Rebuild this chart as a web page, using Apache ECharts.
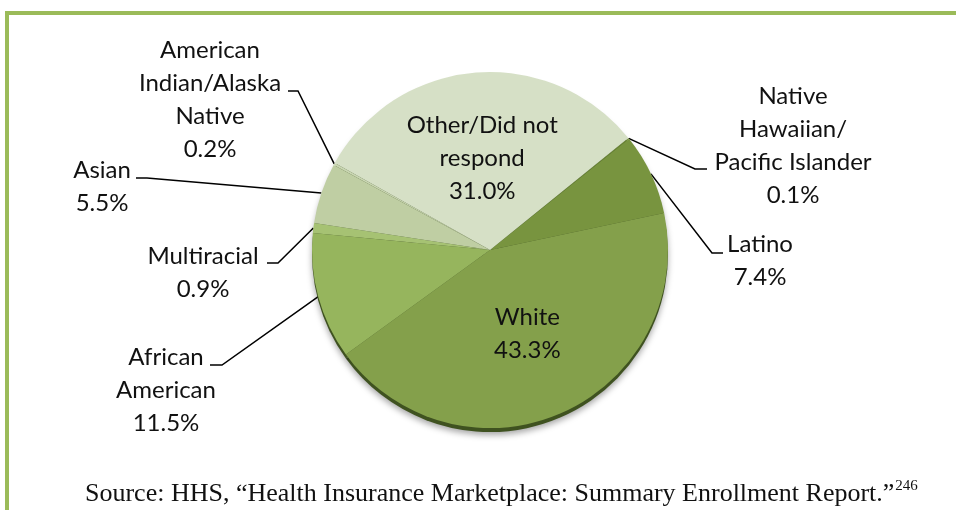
<!DOCTYPE html>
<html>
<head>
<meta charset="utf-8">
<title>Enrollment by race/ethnicity</title>
<script src="https://cdn.jsdelivr.net/npm/echarts@6/dist/echarts.min.js"></script>
<style>
	html,body{margin:0;padding:0;background:#fff;}
	#main{width:956px;height:510px;}
</style>
</head>
<body>
<div id="main"></div>
<script>
;(function(){
	// slices, clockwise from the Other/Latino edge
	var categories = ['Native\nHawaiian/\nPacific Islander', 'Latino', 'White', 'African\nAmerican', 'Multiracial', 'Asian', 'American\nIndian/Alaska\nNative', 'Other/Did not\nrespond'];
	var shares = [0.1, 7.4, 43.3, 11.5, 0.9, 5.5, 0.2, 31.0];
	var colors = ['#6f8b38', '#78943f', '#84a04b', '#96b55d', '#a6c273', '#bfcea3', '#c9d6b2', '#d6e0c6'];
	var insideLabels = ['White', 'Other/Did not\nrespond'];

	// where the outside labels sit, and the bend / end of their leader lines
	var labelPos = {
		'Native\nHawaiian/\nPacific Islander': {x: 793, y: 146, bend: [695, 169], end: [707, 169]},
		'Latino': {x: 760, y: 261, bend: [712, 253], end: [723, 253]},
		'African\nAmerican': {x: 166, y: 390, bend: [222, 365], end: [210, 365]},
		'Multiracial': {x: 203, y: 273, bend: [278, 263], end: [267, 263]},
		'Asian': {x: 102, y: 187, bend: [147, 178], end: [136, 178]},
		'American\nIndian/Alaska\nNative': {x: 210, y: 100, bend: [298, 91], end: [288, 91]}
	};

	var font = 'Lato, "Open Sans", sans-serif';
	var serif = '"Liberation Serif", serif';

	var mainData = [];
	var rimData = [];
	for (var i = 0; i < categories.length; i++) {
		var item = {name: categories[i], value: shares[i], itemStyle: {color: colors[i]}};
		if (insideLabels.indexOf(categories[i]) > -1) {
			item.label = {position: 'inside'};
			item.labelLine = {show: false};
		}
		mainData.push(item);
		rimData.push({name: categories[i], value: shares[i]});
	}

	var myChart = echarts.init(document.getElementById('main'));
	var option = {
		animation: false,
		backgroundColor: '#fff',
		title: {
			left: 80,
			top: 474,
			text: '{a|Source: HHS, \u201cHealth Insurance Marketplace: Summary Enrollment Report.\u201d}{s|246}',
			textStyle: {
				fontWeight: 'normal',
				rich: {
					a: {fontFamily: serif, fontWeight: 'normal', fontSize: 26, color: '#111', lineHeight: 30},
					s: {fontFamily: serif, fontWeight: 'normal', fontSize: 15, color: '#111', verticalAlign: 'top', lineHeight: 30, padding: [0, 0, 10, 1]}
				}
			}
		},
		graphic: [
			{type: 'rect', shape: {x: 5, y: 11, width: 951, height: 4}, style: {fill: '#9bbb59'}},
			{type: 'rect', shape: {x: 5, y: 11, width: 4, height: 499}, style: {fill: '#9bbb59'}}
		],
		series: [
			{
				// dark rim under the pie
				type: 'pie',
				silent: true,
				center: [490, 254],
				radius: 178,
				startAngle: 39,
				label: {show: false},
				labelLine: {show: false},
				itemStyle: {color: '#3f5220', shadowBlur: 6, shadowOffsetY: 3, shadowColor: 'rgba(0,0,0,0.35)'},
				data: rimData
			},
			{
				type: 'pie',
				center: [490, 250],
				radius: 178,
				startAngle: 39,
				avoidLabelOverlap: false,
				label: {
					position: 'outside',
					fontFamily: font,
					fontSize: 24,
					lineHeight: 33,
					color: '#111',
					align: 'center',
					formatter: function(p){
						return p.name + '\n' + p.value.toFixed(1) + '%';
					}
				},
				labelLine: {show: true, lineStyle: {color: '#000', width: 1.5}},
				labelLayout: function(p){
					var lp = labelPos[categories[p.dataIndex]];
					if (!lp || p.seriesIndex != 1) {
						return {};
					}
					var start = p.labelLinePoints ? p.labelLinePoints[0] : lp.bend;
					return {
						x: lp.x,
						y: lp.y,
						align: 'center',
						verticalAlign: 'middle',
						labelLinePoints: [start, lp.bend, lp.end]
					};
				},
				data: mainData
			}
		]
	};
	myChart.setOption(option);
})();
</script>
</body>
</html>
